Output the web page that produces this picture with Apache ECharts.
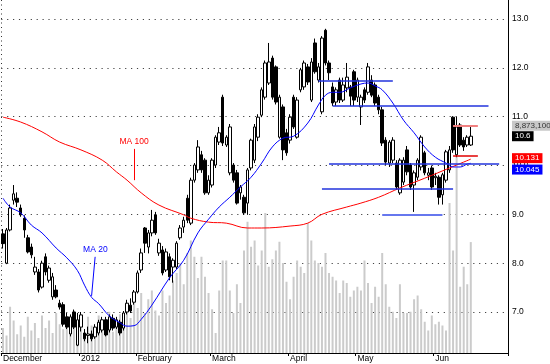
<!DOCTYPE html>
<html><head><meta charset="utf-8">
<style>html,body{margin:0;padding:0;background:#fff}#c{width:550px;height:364px}</style>
<script src="https://cdn.jsdelivr.net/npm/echarts/dist/echarts.min.js"></script>
</head><body><div id="c"></div>
<script>
// ---------- data ----------
const slotCount = 143; // 133 trading days + empty space on the right
const categories = Array.from({length: slotCount}, (_, i) => 'd' + i);
const monthTicks = {0: 'December', 22: '2012', 38: 'February', 59: 'March', 81: 'April', 100: 'May', 122: 'Jun'};
const yearBoundary = 22;
const priceGrid = [7, 8, 9, 10, 11, 12, 13];

// [open, close, low, high]
const ohlc = [
[8.60,8.40,8.30,8.70],[8.00,8.68,7.98,8.72],[8.68,9.13,8.65,9.20],[9.29,9.42,9.20,9.60],[9.33,9.25,9.15,9.45],
[9.13,8.99,8.95,9.20],[8.92,8.68,8.52,8.98],[8.52,8.23,8.20,8.58],[8.33,8.17,8.10,8.40],[7.82,7.92,7.76,8.13],
[7.82,7.45,7.40,7.88],[7.51,8.00,7.48,8.05],[8.13,7.82,7.75,8.20],[7.65,7.90,7.60,7.95],[7.31,7.72,7.25,7.80],
[7.45,7.31,7.28,7.55],[7.18,7.10,7.05,7.25],[7.15,6.75,6.70,7.20],[6.90,6.69,6.65,6.98],[6.55,6.90,6.50,6.95],
[7.00,6.69,6.65,7.05],[6.32,6.84,6.30,6.98],[6.69,6.94,6.60,7.00],[6.57,6.45,6.40,6.65],[6.52,6.55,6.36,6.70],
[6.55,6.45,6.40,6.62],[6.49,6.69,6.45,6.75],[6.57,6.79,6.52,6.84],[6.63,6.84,6.58,6.90],[6.84,6.53,6.50,6.90],
[6.63,6.90,6.58,6.95],[6.87,6.67,6.62,6.95],[6.69,6.84,6.65,6.90],[6.79,6.57,6.52,6.84],[6.67,6.98,6.62,7.02],
[7.00,7.18,6.95,7.25],[7.14,7.02,6.98,7.28],[7.20,7.41,7.15,7.45],[7.41,7.80,7.38,7.85],[7.86,8.21,7.80,8.30],
[8.72,8.41,8.21,8.74],[8.33,8.62,8.20,8.68],[8.62,8.88,8.55,9.09],[8.99,8.62,8.58,9.05],[8.21,8.41,8.15,8.50],
[8.27,7.80,7.75,8.35],[7.86,8.23,7.82,8.30],[8.13,7.72,7.65,8.20],[7.92,8.06,7.60,8.10],[7.92,8.41,7.88,8.45],
[8.52,8.72,8.48,8.78],[8.74,8.88,8.62,8.95],[9.33,8.88,8.82,9.40],[8.82,9.70,8.78,9.75],[9.70,10.01,9.65,10.05],
[9.91,10.38,9.85,10.52],[10.22,9.91,9.85,10.30],[10.11,9.44,9.40,10.15],[9.44,9.70,9.40,9.80],[9.60,10.11,9.55,10.15],
[10.01,10.58,9.95,10.62],[10.48,10.67,10.42,10.79],[11.40,10.46,10.40,11.45],[10.42,10.58,10.38,10.62],[9.85,10.79,9.80,10.85],
[10.01,9.70,9.65,10.05],[9.85,9.23,9.20,9.91],[9.44,9.56,9.30,9.60],[9.35,9.03,8.99,9.40],[9.23,9.91,8.99,9.95],
[9.95,10.52,9.90,10.55],[10.11,10.79,10.05,10.85],[10.58,10.99,10.50,11.05],[11.03,11.55,10.99,11.60],[11.40,12.10,11.35,12.15],
[11.69,12.12,11.65,12.51],[12.20,11.40,11.35,12.25],[12.02,11.30,11.25,12.05],[10.58,11.40,10.55,11.45],[11.20,10.32,10.11,11.25],
[10.67,10.26,10.20,10.75],[10.52,10.99,10.45,11.05],[11.40,10.79,10.75,11.45],[10.58,11.34,10.55,11.40],[11.55,11.96,11.50,12.00],
[11.61,12.10,11.55,12.15],[12.02,11.71,11.65,12.08],[11.34,12.12,11.30,12.20],[12.51,11.92,11.88,12.60],[11.75,12.02,11.70,12.10],
[11.10,12.61,11.05,12.65],[12.77,12.10,12.05,12.80],[12.10,11.90,11.75,12.15],[11.61,11.28,11.22,11.70],[11.30,11.55,11.22,11.60],
[11.75,11.34,11.28,11.80],[11.34,11.65,11.30,11.80],[11.59,11.81,11.50,12.10],[11.61,11.42,11.22,11.65],[11.92,11.34,11.22,11.96],
[11.40,11.75,11.30,11.80],[11.20,11.40,10.83,11.45],[11.55,11.34,11.28,11.60],[11.50,12.02,11.45,12.10],[11.75,11.44,11.40,11.85],
[11.65,11.28,11.22,11.70],[11.40,11.14,11.05,11.45],[11.14,10.46,10.40,11.20],[10.52,10.07,10.01,10.58],[10.05,10.48,9.97,10.52],
[10.11,10.52,10.05,10.58],[10.05,9.56,9.50,10.11],[9.44,10.11,9.40,10.15],[9.66,10.11,9.60,10.17],[10.32,9.87,9.80,10.40],
[10.01,9.56,9.50,10.05],[9.60,9.85,9.05,9.90],[9.76,10.11,9.70,10.15],[9.97,10.58,9.90,10.62],[10.26,9.85,9.80,10.30],
[9.80,9.85,9.70,9.95],[9.95,9.56,9.50,10.00],[9.75,9.78,9.60,9.85],[9.76,9.35,9.20,9.80],[9.40,9.81,9.20,9.85],
[9.70,10.28,9.65,10.32],[9.91,10.32,9.85,10.40],[10.99,10.32,10.26,11.01],[10.22,10.79,10.17,11.00],[10.83,10.42,10.38,10.87],
[10.52,10.38,10.30,10.58],[10.42,10.58,10.38,10.62],[10.42,10.60,10.40,10.79]
];

// volume, millions of shares
const volume = [
2.0,1.4,3.7,2.6,1.5,2.2,1.3,2.9,1.8,2.4,1.2,3.0,2.0,2.6,1.6,3.2,2.3,1.9,2.7,1.5,3.4,2.4,2.0,1.4,2.9,2.2,1.6,3.0,1.9,2.5,3.3,1.7,2.6,3.1,2.2,3.6,2.8,4.0,
3.6,4.8,3.2,4.3,5.0,3.4,3.0,5.0,4.0,4.6,5.8,6.4,7.2,
5.5,8.0,9.0,7.7,6.0,7.7,6.1,4.8,3.5,1.6,5.0,7.4,7.4,5.0,3.2,5.5,4.0,8.2,10.5,8.5,9.0,7.0,8.2,11.2,6.9,7.5,8.2,8.9,7.2,5.7,4.3,6.1,7.4,6.9,6.4,10.4,9.0,7.4,7.2,6.9,8.0,6.4,6.1,5.8,4.8,5.8,5.6,4.5,5.0,5.3,
5.0,7.4,5.6,4.0,5.3,4.5,8.0,5.5,3.7,3.3,2.8,5.5,3.2,3.2,3.3,4.3,4.6,3.5,2.5,1.8,3.0,2.3,2.5,2.2,1.8,12.0,8.2,15.7,5.3,6.9,5.5,8.8731
];

// moving averages: [dayIndex, value]
const ma20 = [[0,9.33],[2,9.15],[5,9.03],[8,8.78],[11,8.62],[15,8.31],[18,8.11],[21,7.85],[23,7.55],[25,7.30],[27,7.17],[30,6.92],[33,6.78],[35,6.71],[37,6.72],[39,6.85],[42,7.14],[47,7.70],[51,8.06],[55,8.62],[58,8.90],[61,9.15],[64,9.35],[67,9.56],[70,9.76],[73,10.05],[76,10.38],[79,10.56],[82,10.60],[86,10.87],[89,11.24],[91,11.44],[93,11.50],[95,11.50],[98,11.59],[101,11.67],[103,11.69],[105,11.63],[107,11.55],[110,11.28],[113,10.93],[116,10.67],[119,10.38],[122,10.17],[125,10.05],[127,9.97],[129,9.97],[131,10.03],[132,10.045]];
const ma100 = [[0,10.99],[5,10.89],[11,10.69],[16,10.48],[22,10.32],[28,10.11],[32,9.87],[35,9.70],[39,9.44],[44,9.19],[51,8.99],[53,8.92],[58,8.84],[63,8.82],[69,8.72],[73,8.72],[81,8.76],[86,8.82],[90,9.00],[97,9.15],[101,9.23],[106,9.35],[112,9.54],[119,9.74],[126,9.95],[132,10.131]];

// drawn support / resistance segments: [fromIndex, toIndex, price]
const blueLines = [[89,110,11.74],[93,137,11.22],[92,140,10.03],[90,127,9.52]];
const paleBlueLines = [[107,124,9.00]];
const redLines = [[127,134,10.21]];
const paleRedLines = [[127,134,10.81]];

// ---------- chart ----------
const FONT = '"Liberation Sans", Arial, sans-serif';
const lastClose = ohlc[ohlc.length - 1][1];
const lastVol = volume[volume.length - 1];
const lastMa20 = ma20[ma20.length - 1][1];
const lastMa100 = ma100[ma100.length - 1][1];

function seg(list, color, width) {
  return list.map(([a, b, v]) => [
    {coord: [a, v], lineStyle: {color: color, width: width, type: 'solid'}},
    {coord: [b, v]}
  ]);
}
function box(value, text, bg, fg, dy) {
  return {
    yAxis: value,
    lineStyle: {color: 'rgba(0,0,0,0)', width: 0},
    label: {show: true, position: 'end', distance: 4, formatter: text, backgroundColor: bg, color: fg,
            fontSize: 8, fontFamily: FONT, padding: [1, 3, 0, 3], lineHeight: 9, offset: [0, dy]}
  };
}

const chart = echarts.init(document.getElementById('c'), null, {renderer: 'canvas'});
chart.setOption({
  animation: false,
  grid: {left: 0, right: 42, top: 0, bottom: 11},
  xAxis: {
    type: 'category', data: categories, boundaryGap: true,
    axisLine: {show: true, lineStyle: {color: '#000', width: 1}},
    axisTick: {show: true, interval: (i) => i in monthTicks, length: 3, lineStyle: {color: '#000'}},
    axisLabel: {interval: (i) => i in monthTicks, formatter: (v, i) => monthTicks[i] || '',
                align: 'left', margin: 1, fontSize: 8.5, color: '#000', fontFamily: FONT},
    splitLine: {show: true, interval: (i) => i === yearBoundary, lineStyle: {color: '#333', type: [1, 3.5]}}
  },
  yAxis: [
    {type: 'value', position: 'right', min: 6.16, max: 13.39, splitNumber: 7,
     axisLine: {show: true, lineStyle: {color: '#000'}}, axisTick: {show: false},
     axisLabel: {formatter: (v) => Math.abs(v - Math.round(v)) < 1e-6 ? v.toFixed(1) : '',
                 margin: 4, fontSize: 8.5, color: '#000', fontFamily: FONT},
     splitLine: {show: false}},
    {type: 'value', min: 0, max: 28.24, show: false, splitLine: {show: false}}
  ],
  series: [
    {type: 'line', data: [], z: 0, silent: true,
     markLine: {silent: true, symbol: 'none', z: 0, label: {show: false},
       lineStyle: {color: '#444', width: 1, type: [1.2, 4.7]},
       data: priceGrid.map(v => ({yAxis: v}))}},
    {type: 'bar', yAxisIndex: 1, data: volume, barWidth: 2, z: 1, silent: true,
     itemStyle: {color: '#cbcbcb'}},
    {type: 'candlestick', data: ohlc, barWidth: 3, z: 3, silent: true,
     itemStyle: {color: '#ffffff', color0: '#000000', borderColor: '#000000', borderColor0: '#000000', borderWidth: 1}},
    {type: 'line', data: ma100, smooth: 0.4, symbol: 'none', z: 4, silent: true,
     lineStyle: {color: '#ff0000', width: 1},
     markLine: {silent: true, symbol: 'none',
       data: [[{coord: [37, 9.70], lineStyle: {color: '#ff0000', width: 1, type: 'solid'},
                label: {show: true, position: 'end', formatter: 'MA 100', color: '#ff0000', fontSize: 8.5, fontFamily: FONT, distance: 3}},
               {coord: [37, 10.34]}]]}},
    {type: 'line', data: ma20, smooth: 0.4, symbol: 'none', z: 4, silent: true,
     lineStyle: {color: '#0000ff', width: 1},
     markLine: {silent: true, symbol: 'none',
       data: [[{coord: [25, 7.33], lineStyle: {color: '#0000ff', width: 1, type: 'solid'},
                label: {show: true, position: 'end', formatter: 'MA 20', color: '#0000ff', fontSize: 8.5, fontFamily: FONT, distance: 3}},
               {coord: [26, 8.13]}]]}},
    {type: 'line', data: [], z: 5, silent: true,
     markLine: {silent: true, symbol: 'none', label: {show: false},
       data: [].concat(
         seg(blueLines, '#2233dd', 1.5),
         seg(paleBlueLines, '#6677ee', 2),
         seg(redLines, '#e00000', 1.5),
         seg(paleRedLines, '#f08080', 2),
         [box(lastClose, '8,873,100'.length ? Math.round(lastVol * 1e6).toLocaleString('en-US') : '', '#c8c8c8', '#333', -10.5),
          box(lastClose, String(lastClose), '#000000', '#ffffff', 0),
          box(lastMa100, String(lastMa100), '#ff0000', '#ffffff', -1),
          box(lastMa20, String(lastMa20), '#0000ff', '#ffffff', 6)]
       )}}
  ]
});
</script></body></html>
